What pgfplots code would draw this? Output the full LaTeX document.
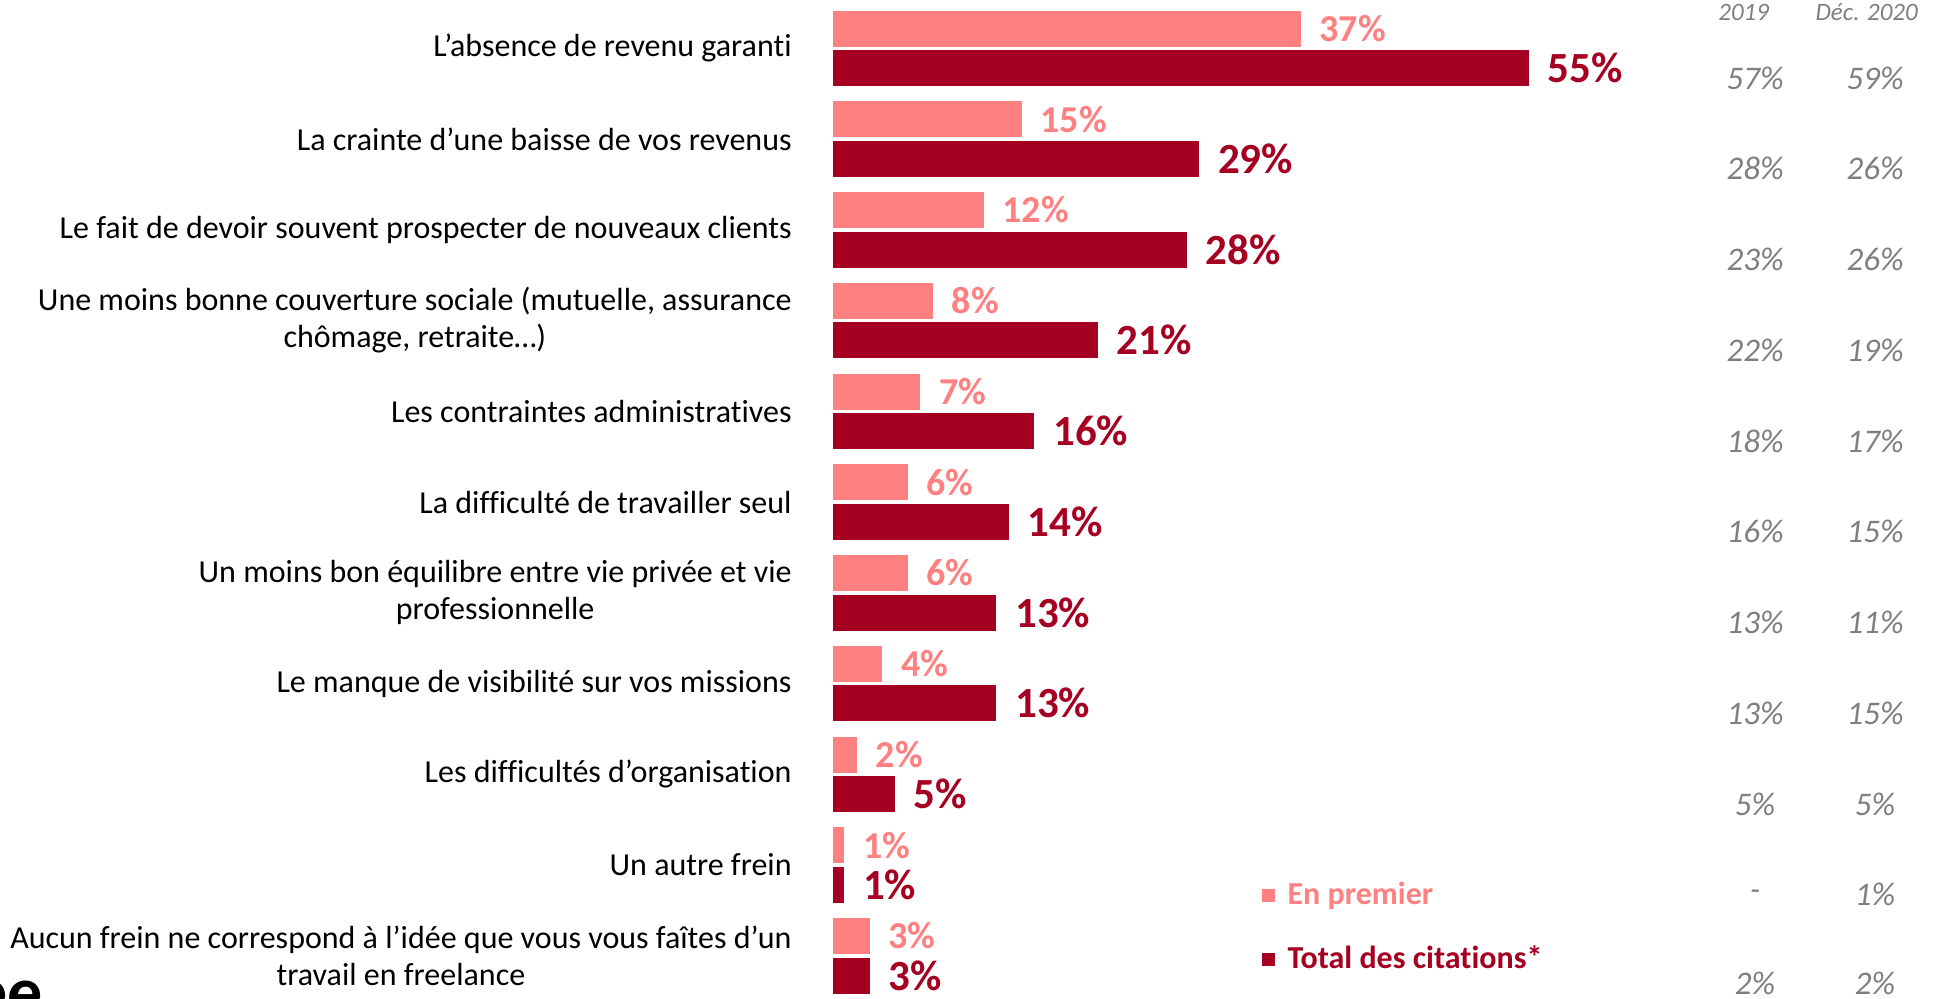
\documentclass[border=0pt]{standalone}
\usepackage{pgfplots}
\pgfplotsset{compat=1.18}
\usepackage{fontspec}
\setmainfont{Carlito}[Ligatures=NoCommon]
\definecolor{lightc}{HTML}{FF8080}
\definecolor{darkc}{HTML}{A50021}
\definecolor{grayc}{HTML}{7F7F7F}
\newcommand{\catfont}{\fontsize{16}{18.5}\selectfont}
\newcommand{\rfont}{\fontsize{16.5}{18}\selectfont\itshape\color{grayc}}
\begin{document}
\begin{tikzpicture}
\useasboundingbox (0,0) rectangle (970.5pt,499pt);
\clip (0,0) rectangle (970.5pt,499pt);
\begin{axis}[
  at={(416pt,0pt)}, anchor=south west,
  scale only axis, width=554.5pt, height=499pt,
  xmin=0, xmax=87.46, ymin=0, ymax=998, y dir=reverse,
  axis lines=none, clip=false,
  xbar, bar width=18.5pt, bar shift=0pt,
  /pgf/number format/assume math mode=true,
  point meta=x,
  legend style={at={(axis cs:33.83,880)}, anchor=north west, draw=none, fill=none,
    font=\fontsize{16}{18}\selectfont\bfseries, row sep=17pt, column sep=6pt,
    inner sep=0pt, nodes={inner sep=0pt, anchor=west, text height=12pt, text depth=3pt}},
  legend image code/.code={\fill[#1] (0pt,-3.35pt) rectangle (6.7pt,3.35pt);},
]
\addplot[fill=lightc, draw=white, line width=0.4pt,
  nodes near coords={\pgfmathprintnumber{\pgfplotspointmeta}\%},
  every node near coord/.append style={font=\fontsize{19}{20}\selectfont\bfseries, text=lightc, inner sep=0pt, xshift=9pt}]
  coordinates {(37,28.5) (15,119.25) (12,210) (8,300.75) (7,391.5) (6,482.25) (6,573) (4,663.75) (2,754.5) (1,845.25) (3,936)};
\addlegendentry{\textcolor{lightc}{En premier}}
\addplot[fill=darkc, draw=white, line width=0.4pt,
  nodes near coords={\pgfmathprintnumber{\pgfplotspointmeta}\%},
  every node near coord/.append style={font=\fontsize{21.5}{23}\selectfont\bfseries, text=darkc, inner sep=0pt, xshift=9pt}]
  coordinates {(55,68) (29,158.75) (28,249.5) (21,340.25) (16,431) (14,521.75) (13,612.5) (13,703.25) (5,794) (1,884.75) (3,975.5)};
\addlegendentry{\textcolor{darkc}{Total des citations*}}

% category labels
\begin{scope}[every node/.style={anchor=east, align=center, font=\catfont, inner sep=0pt}]
\node at (axis cs:-3.155,48.25) {L’absence de revenu garanti};
\node at (axis cs:-3.155,139) {La crainte d’une baisse de vos revenus};
\node at (axis cs:-3.155,229.75) {Le fait de devoir souvent prospecter de nouveaux clients};
\node at (axis cs:-3.155,320.5) {Une moins bonne couverture sociale (mutuelle, assurance\\chômage, retraite…)};
\node at (axis cs:-3.155,411.25) {Les contraintes administratives};
\node at (axis cs:-3.155,502) {La difficulté de travailler seul};
\node at (axis cs:-3.155,592.75) {Un moins bon équilibre entre vie privée et vie\\professionnelle};
\node at (axis cs:-3.155,683.5) {Le manque de visibilité sur vos missions};
\node at (axis cs:-3.155,774.25) {Les difficultés d’organisation};
\node at (axis cs:-3.155,865) {Un autre frein};
\node at (axis cs:-3.155,955.75) {Aucun frein ne correspond à l’idée que vous vous faîtes d’un\\travail en freelance};
\end{scope}

% header
\node[font=\fontsize{12.5}{13}\selectfont\itshape, text=grayc, inner sep=0pt] at (axis cs:71.9,12) {2019};
\node[font=\fontsize{12.5}{13}\selectfont\itshape, text=grayc, inner sep=0pt] at (axis cs:81.6,12) {Déc. 2020};

% comparison columns
\begin{scope}[every node/.style={font=\rfont, inner sep=0pt}]
\node at (axis cs:72.8,78) {57\%};     \node at (axis cs:82.26,78) {59\%};
\node at (axis cs:72.8,168.75) {28\%};  \node at (axis cs:82.26,168.75) {26\%};
\node at (axis cs:72.8,259.5) {23\%};   \node at (axis cs:82.26,259.5) {26\%};
\node at (axis cs:72.8,350.25) {22\%};  \node at (axis cs:82.26,350.25) {19\%};
\node at (axis cs:72.8,441) {18\%};     \node at (axis cs:82.26,441) {17\%};
\node at (axis cs:72.8,531.75) {16\%};  \node at (axis cs:82.26,531.75) {15\%};
\node at (axis cs:72.8,622.5) {13\%};   \node at (axis cs:82.26,622.5) {11\%};
\node at (axis cs:72.8,713.25) {13\%};  \node at (axis cs:82.26,713.25) {15\%};
\node at (axis cs:72.8,804) {5\%};      \node at (axis cs:82.26,804) {5\%};
\node at (axis cs:72.8,894.75) {-};     \node at (axis cs:82.26,894.75) {1\%};
\node at (axis cs:72.8,983.5) {2\%};    \node at (axis cs:82.26,983.5) {2\%};
\end{scope}

% partial logo at bottom left
\node[anchor=base east, font=\fontsize{35}{36}\selectfont\bfseries, inner sep=0pt] at (axis cs:-62.2,1015) {ee};
\end{axis}
\end{tikzpicture}
\end{document}
